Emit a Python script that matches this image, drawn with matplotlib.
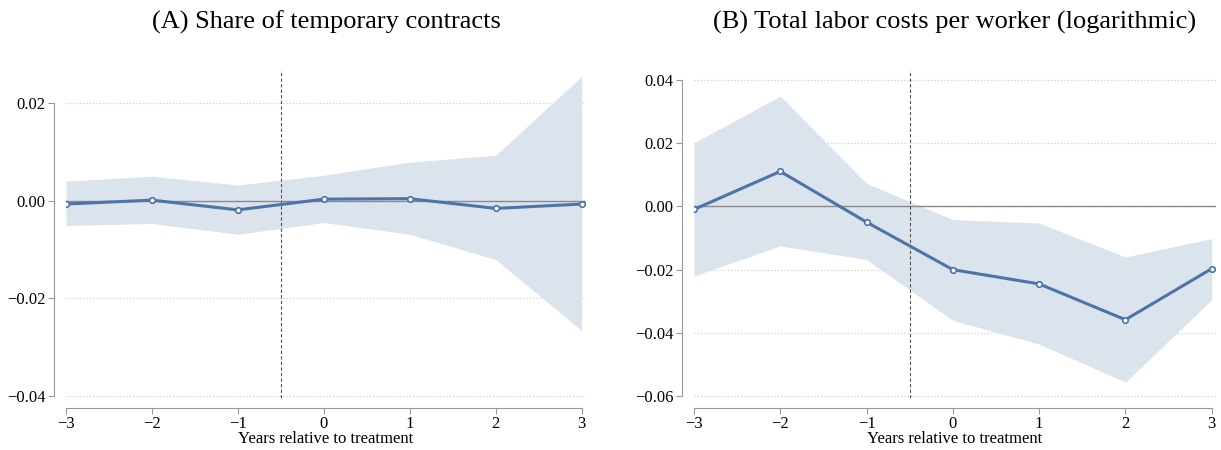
import numpy as np
import matplotlib
matplotlib.use("Agg")
import matplotlib.pyplot as plt

years = [-3, -2, -1, 0, 1, 2, 3]

# panel A: share of temporary contracts
est_a = [-0.0007, 0.0001, -0.0019, 0.0003, 0.0004, -0.0016, -0.0007]
hi_a = [0.0040, 0.0050, 0.0032, 0.0052, 0.0079, 0.0093, 0.0255]
lo_a = [-0.0051, -0.0047, -0.0069, -0.0045, -0.0069, -0.0121, -0.0267]
yt_a = [0.02, 0.0, -0.02, -0.04]

# panel B: total labor costs per worker (log)
est_b = [-0.0010, 0.0110, -0.0050, -0.0200, -0.0245, -0.0358, -0.0197]
hi_b = [0.0200, 0.0348, 0.0072, -0.0042, -0.0053, -0.0160, -0.0102]
lo_b = [-0.0220, -0.0125, -0.0168, -0.0360, -0.0435, -0.0555, -0.0295]
yt_b = [0.04, 0.02, 0.0, -0.02, -0.04, -0.06]

plt.rcParams["font.family"] = ["Liberation Serif", "DejaVu Serif"]
LINE = "#4c74a8"
BAND = "#dbe3ec"

fig = plt.figure(figsize=(12.21, 4.5), dpi=100)
ax_a = fig.add_axes([66 / 1221, 52 / 450, 520 / 1221, 328 / 450])
ax_b = fig.add_axes([694 / 1221, 52 / 450, 522 / 1221, 328 / 450])


def panel(ax, est, hi, lo, yt, ylim, title):
    ax.fill_between(years, lo, hi, color=BAND, lw=0, zorder=1)
    for t in yt:
        ax.axhline(t, color="#c8c8c8", lw=0.8, ls=(0, (1, 2)), zorder=0)
    ax.axhline(0, color="#8a8a8a", lw=1.0, zorder=2)
    ax.axvline(-0.5, color="#555555", lw=0.8, ls=(0, (3, 2)), zorder=2)
    ax.plot(years, est, color=LINE, lw=2.2, marker="o", ms=4,
            mfc="white", mec=LINE, mew=1.2, zorder=3)
    ax.set_xlim(-3.0, 3.05)
    ax.set_ylim(*ylim)
    ax.set_xticks(years)
    ax.set_xticklabels(["\u22123", "\u22122", "\u22121", "0", "1", "2", "3"])
    ax.set_yticks(yt)
    ax.set_yticklabels([f"{t:.2f}".replace("-", "\u2212") for t in yt])
    for s in ["top", "right"]:
        ax.spines[s].set_visible(False)
    ax.spines["left"].set_position(("outward", 9))
    ax.spines["bottom"].set_position(("outward", 7))
    ax.spines["left"].set_bounds(min(yt), max(yt))
    ax.spines["bottom"].set_bounds(-3, 3)
    for s in ["left", "bottom"]:
        ax.spines[s].set_color("#999999")
    ax.tick_params(colors="#999999", labelcolor="black", labelsize=12,
                   length=4, pad=2)
    ax.set_xlabel("Years relative to treatment", fontsize=12, labelpad=-1)
    ax.set_title(title, fontsize=19, pad=30)


panel(ax_a, est_a, hi_a, lo_a, yt_a, (-0.0405, 0.0268),
      "(A) Share of temporary contracts")
panel(ax_b, est_b, hi_b, lo_b, yt_b, (-0.0605, 0.0395),
      "(B) Total labor costs per worker (logarithmic)")
ax_b.set_ylim(-0.0605, 0.0430)
ax_b.spines["left"].set_bounds(-0.06, 0.04)

fig.savefig("out.png", dpi=100)
